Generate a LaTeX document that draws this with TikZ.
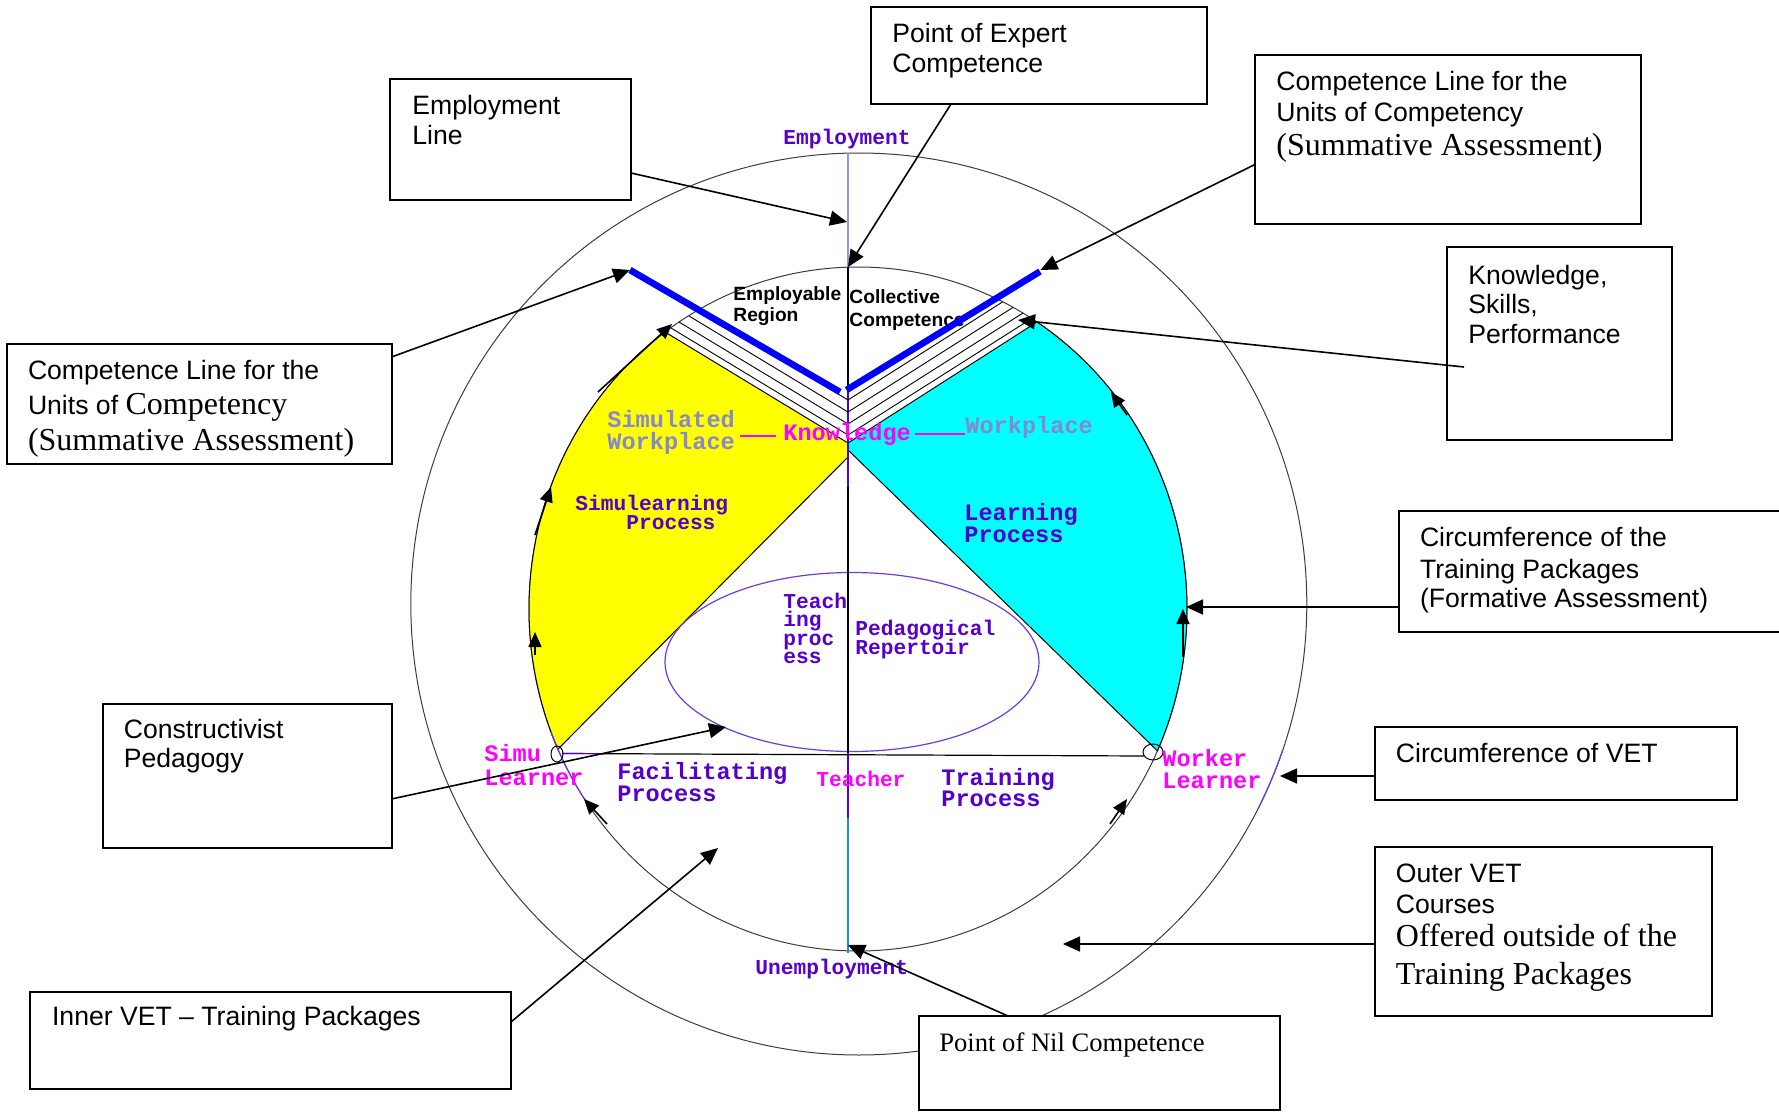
\documentclass[tikz,border=0pt]{standalone}
\usepackage{fontspec}
\setmainfont{Liberation Serif}
\newfontfamily\larial{Liberation Sans}
\newfontfamily\lmono{Liberation Mono}
\usetikzlibrary{arrows.meta,fit}
\definecolor{violetT}{RGB}{85,0,204}
\definecolor{lavT}{RGB}{136,136,204}
\definecolor{magT}{RGB}{255,0,255}
\definecolor{axlav}{RGB}{150,150,220}
\definecolor{axblue}{RGB}{30,144,210}
\definecolor{ellpurple}{RGB}{110,60,220}
\definecolor{circgray}{RGB}{60,60,60}
\definecolor{fillyellow}{RGB}{255,255,0}
\definecolor{fillcyan}{RGB}{0,255,255}
\definecolor{lineblue}{RGB}{0,0,255}
\begin{document}
\begin{tikzpicture}[x=0.5pt,y=-0.5pt,
  lbl/.style={inner sep=0pt, anchor=base west},
  boxtxt/.style={lbl, font=\larial\fontsize{13.3}{15}\selectfont},
  boxtimes/.style={lbl, font=\rmfamily\fontsize{16}{18}\selectfont},
  msmall/.style={lbl, font=\lmono\bfseries\fontsize{10.6}{12}\selectfont},
  mlarge/.style={lbl, font=\lmono\bfseries\fontsize{11.8}{13}\selectfont},
  sansb/.style={lbl, font=\larial\bfseries\fontsize{9.6}{11}\selectfont},
  box/.style={draw, fill=white, line width=1pt, inner sep=0pt},
  conn/.style={line width=0.8pt, -{Triangle[length=8.5pt,width=7.5pt]}},
  arcarrow/.style={line width=0.8pt, -{Triangle[length=7.5pt,width=6.5pt]}},
  circ/.style={draw=circgray, line width=0.5pt},
  hatch/.style={draw=black, line width=0.45pt},
  blueline/.style={draw=lineblue, line width=3.3pt}
]
\useasboundingbox (0,0) rectangle (1779,1113);

% ---- circles
\draw[circ] (858.8,604) ellipse [x radius=224pt, y radius=225.5pt];
\draw[circ] (858,609) ellipse [x radius=164.5pt, y radius=171pt];

% ---- coloured sectors
\filldraw[fill=fillyellow, draw=black, line width=0.5pt]
  (848,443) -- (665,332)
  -- plot[domain=234.1:155.8, samples=60] ({858+329*cos(\x)},{609+342*sin(\x)})
  -- (848,457) -- cycle;
\filldraw[fill=fillcyan, draw=black, line width=0.5pt]
  (848,443) -- (1037,322)
  -- plot[domain=-57:24.5, samples=60] ({858+329*cos(\x)},{609+342*sin(\x)})
  -- (848,450) -- cycle;

% purple touches on circles
\draw[ellpurple, line width=0.6pt] plot[domain=145:159, samples=20] ({858+329*cos(\x)},{609+342*sin(\x)});
\draw[ellpurple, line width=0.6pt] plot[domain=19:27, samples=20] ({858.8+448*cos(\x)},{604+451*sin(\x)});

% ---- pedagogical ellipse
\draw[ellpurple, line width=0.6pt] (852,662) ellipse [x radius=93.5pt, y radius=44.75pt];

% ---- axis
\draw[axlav, line width=0.6pt] (848,153) -- (848,267);
\draw[black, line width=0.6pt] (848,267) -- (848,753);
\draw[violetT, line width=0.6pt] (848,392) -- (848,487);
\draw[violetT, line width=0.6pt] (848,753) -- (848,818);
\draw[axblue, line width=0.6pt] (848,818) -- (848,953);

% ---- horizontal learner line
\draw[black, line width=0.6pt] (562,753.5) -- (1144,756);
\draw[violetT, line width=0.6pt] (562,753.5) -- (605,753.7);
\draw[black, line width=0.5pt] (557,754) ellipse [x radius=3pt, y radius=4pt];
\draw[black, line width=0.5pt] (1153,752) ellipse [x radius=5pt, y radius=4pt];

% ---- knowledge / skills / performance lines
\draw[hatch] (848,400) -- (699,310);
\draw[hatch] (848,412) -- (689,316);
\draw[hatch] (848,424) -- (679,322);
\draw[hatch] (848,435) -- (671,328);
\draw[hatch] (848,400) -- (1002.5,302);
\draw[hatch] (848,412) -- (1013,307.4);
\draw[hatch] (848,424) -- (1023,313);
\draw[hatch] (848,435) -- (1032,318.3);

% ---- region labels
\node[sansb] (lEmpReg1) at (733,300) {Employable};
\node[sansb] (lEmpReg2) at (733,321.7) {Region};
\node[sansb] (lColl1) at (849,303.3) {Collective};
\node[sansb] (lColl2) at (849,326) {Competence};

% ---- competence lines (blue)
\draw[blueline] (630,270) -- (840,392);
\draw[blueline] (846.5,390) -- (1040,271.5);

% ---- magenta connectors by Knowledge
\draw[magT, line width=0.6pt] (740,436) -- (776,436);
\draw[magT, line width=0.6pt] (915,434) -- (965,434);

% ---- monospace labels
\node[msmall, text=violetT] (lEmployment) at (783,144.5) {Employment};
\node[mlarge, text=lavT] (lSim1) at (607,427.7) {Simulated};
\node[mlarge, text=lavT] (lSim2) at (607,449) {Workplace};
\node[mlarge, text=magT] (lKnow) at (783,440) {Knowledge};
\node[mlarge, text=lavT] (lWork) at (965,433.3) {Workplace};
\node[msmall, text=violetT] (lSL1) at (575,510.7) {Simulearning};
\node[msmall, text=violetT] (lSL2) at (626,529.3) {Process};
\node[mlarge, text=violetT] (lLP1) at (964,520.7) {Learning};
\node[mlarge, text=violetT] (lLP2) at (964,542.3) {Process};
\node[msmall, text=violetT] (lTp1) at (783,608.3) {Teach};
\node[msmall, text=violetT] (lTp2) at (783,626.6) {ing};
\node[msmall, text=violetT] (lTp3) at (783,645) {proc};
\node[msmall, text=violetT] (lTp4) at (783,663.3) {ess};
\node[msmall, text=violetT] (lPR1) at (855,635.7) {Pedagogical};
\node[msmall, text=violetT] (lPR2) at (855,654) {Repertoir};
\node[mlarge, text=violetT] (lFP1) at (617,779.3) {Facilitating};
\node[mlarge, text=violetT] (lFP2) at (617,801.7) {Process};
\node[msmall, text=magT] (lTeacher) at (816,786) {Teacher};
\node[mlarge, text=violetT] (lTP1) at (941,785) {Training};
\node[mlarge, text=violetT] (lTP2) at (941,806.7) {Process};
\node[mlarge, text=magT] (lSimu1) at (484,761.7) {Simu};
\node[mlarge, text=magT] (lSimu2) at (484,785) {Learner};
\node[mlarge, text=magT] (lWk1) at (1162,766.7) {Worker};
\node[mlarge, text=magT] (lWk2) at (1162,788.3) {Learner};
\node[msmall, text=violetT] (lUnemp) at (755,974) {Unemployment};

% ---- small arrows along the training-package circumference
\coordinate (a1s) at (598,392);   \coordinate (a1e) at (672,324);
\coordinate (a2s) at (535,535);   \coordinate (a2e) at (551,487);
\coordinate (a3s) at (535,655);   \coordinate (a3e) at (535,632);
\coordinate (a4s) at (1127,415);  \coordinate (a4e) at (1111,392);
\coordinate (a5s) at (1183,657);  \coordinate (a5e) at (1183,609);
\coordinate (a6s) at (607,824);   \coordinate (a6e) at (584,799);
\coordinate (a7s) at (1110,824);  \coordinate (a7e) at (1127,799);
\foreach \i in {1,...,7} {\draw[arcarrow] (a\i s) -- (a\i e);}

% ---- boxes
\node[box, fit={(871,7) (1207,104)}] (bExpert) {};
\node[boxtxt] (tExp1) at (892,43) {Point of Expert};
\node[boxtxt] (tExp2) at (892,73) {Competence};

\node[box, fit={(390,79) (631,200)}] (bEmp) {};
\node[boxtxt] (tEmp1) at (412,115) {Employment};
\node[boxtxt] (tEmp2) at (412,144.6) {Line};

\node[box, fit={(1255,55) (1641,224)}] (bCompR) {};
\node[boxtxt] (tCR1) at (1276,91) {Competence Line for the};
\node[boxtxt] (tCR2) at (1276,121.4) {Units of Competency};
\node[boxtimes] (tCR3) at (1276,155.4) {(Summative Assessment)};

\node[box, fit={(1447,247) (1672,440)}] (bKSP) {};
\node[boxtxt] (tK1) at (1468,284) {Knowledge,};
\node[boxtxt] (tK2) at (1468,314) {Skills,};
\node[boxtxt] (tK3) at (1468,343.6) {Performance};

\node[box, fit={(7,344) (391.5,464)}] (bCompL) {};
\node[boxtxt] (tCL1) at (27.6,379.3) {Competence Line for the};
\node[boxtxt] (tCL2) at (27.6,414.3) {Units of {\rmfamily\fontsize{16}{18}\selectfont Competency}};
\node[boxtimes] (tCL3) at (27.6,450.7) {(Summative Assessment)};

\node[box, fit={(1399,511) (1800,632)}] (bCircTP) {};
\node[boxtxt] (tTP1) at (1419.6,546.4) {Circumference of the};
\node[boxtxt] (tTP2) at (1419.6,578) {Training Packages};
\node[boxtxt] (tTP3) at (1419.6,607.5) {(Formative Assessment)};

\node[box, fit={(1375,727) (1736.5,800)}] (bCircVET) {};
\node[boxtxt] (tCV) at (1395.5,762) {Circumference of VET};

\node[box, fit={(1375,847) (1712,1016)}] (bOuter) {};
\node[boxtxt] (tO1) at (1395.5,882) {Outer VET};
\node[boxtxt] (tO2) at (1395.5,913.4) {Courses};
\node[boxtimes] (tO3) at (1395.5,946.8) {Offered outside of the};
\node[boxtimes] (tO4) at (1395.5,984.5) {Training Packages};

\node[box, fit={(919,1016) (1280,1110)}] (bNil) {};
\node[lbl, font=\rmfamily\fontsize{13.3}{15}\selectfont] (tNil) at (939,1051) {Point of Nil Competence};

\node[box, fit={(103,704) (391.5,848)}] (bConst) {};
\node[boxtxt] (tC1) at (123.4,738.5) {Constructivist};
\node[boxtxt] (tC2) at (123.4,767.2) {Pedagogy};

\node[box, fit={(30.4,992) (511,1088.6)}] (bInner) {};
\node[boxtxt] (tIn) at (51.7,1025.8) {Inner VET – Training Packages};

% ---- connectors
\coordinate (sEmp) at (631,173);      \coordinate (eEmp) at (847,222);
\coordinate (sExp) at (951,104);      \coordinate (eExp) at (848,267);
\coordinate (sCR) at (1255,164.5);    \coordinate (eCR) at (1040.5,270);
\coordinate (sK) at (1464,367);       \coordinate (eK) at (1018,320);
\coordinate (sCL) at (391.5,357);     \coordinate (eCL) at (630,270);
\coordinate (sTP) at (1399,607);      \coordinate (eTP) at (1186,607);
\coordinate (sCV) at (1375,776);      \coordinate (eCV) at (1280,776);
\coordinate (sO) at (1375,944);       \coordinate (eO) at (1063,944);
\coordinate (sNil) at (1008,1016);    \coordinate (eNil) at (848,945);
\coordinate (sC) at (391.5,799);      \coordinate (eC) at (726,727);
\coordinate (sIn) at (511,1022);      \coordinate (eIn) at (718,848);
\draw[conn] (sEmp) -- (eEmp);
\draw[conn] (sExp) -- (eExp);
\draw[conn] (sCR) -- (eCR);
\draw[conn] (sK) -- (eK);
\draw[conn] (sCL) -- (eCL);
\draw[conn] (sTP) -- (eTP);
\draw[conn] (sCV) -- (eCV);
\draw[conn] (sO) -- (eO);
\draw[conn] (sNil) -- (eNil);
\draw[conn] (sC) -- (eC);
\draw[conn] (sIn) -- (eIn);
\end{tikzpicture}
\end{document}
